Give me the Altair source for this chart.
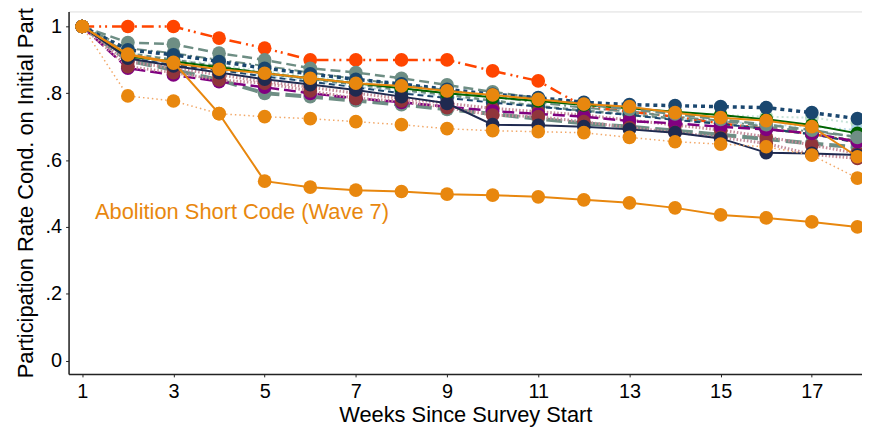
import altair as alt
import pandas as pd

weeks = list(range(1, 19))

s_mint = [1.0,0.92,0.902,0.885,0.866,0.85,0.835,0.82,0.805,0.79,0.777,0.762,0.752,0.742,0.735,0.73,0.727,0.71]
s_ltblue = [1.0,0.91,0.89,0.87,0.852,0.836,0.82,0.806,0.79,0.776,0.762,0.748,0.737,0.726,0.716,0.707,0.70,0.69]
s_orangered = [1.0,1.0,1.0,0.965,0.935,0.90,0.90,0.90,0.90,0.867,0.837,0.76,0.745,0.73,0.71,0.694,0.678,0.655]
s_teal_short = [1.0,0.92,0.9,0.88,0.86,0.843,0.826,0.81,0.795,0.778,0.762,0.748,0.737,0.724,0.71,0.693,0.677,0.658]
s_teal_dot = [1.0,0.935,0.92,0.90,0.882,0.862,0.843,0.826,0.81,0.79,0.772,0.757,0.745,0.73,0.718,0.70,0.685,0.67]
s_navy_dash = [1.0,0.905,0.885,0.87,0.85,0.835,0.818,0.80,0.786,0.772,0.76,0.746,0.735,0.72,0.708,0.694,0.678,0.652]
s_teal_long = [1.0,0.898,0.87,0.84,0.80,0.79,0.778,0.766,0.752,0.738,0.724,0.71,0.70,0.688,0.676,0.663,0.65,0.638]
s_maroon2 = [1.0,0.895,0.875,0.855,0.835,0.818,0.80,0.785,0.77,0.755,0.745,0.735,0.72,0.705,0.69,0.67,0.645,0.62]
s_purple = [1.0,0.875,0.855,0.835,0.818,0.80,0.785,0.773,0.76,0.747,0.738,0.73,0.717,0.71,0.70,0.692,0.68,0.655]
s_maroon1 = [1.0,0.88,0.862,0.84,0.83,0.807,0.785,0.777,0.757,0.735,0.73,0.715,0.697,0.683,0.668,0.65,0.617,0.605]
s_green = [1.0,0.91,0.895,0.878,0.86,0.845,0.83,0.815,0.80,0.788,0.777,0.765,0.755,0.745,0.735,0.722,0.705,0.68]
s_dknavy = [1.0,0.905,0.882,0.862,0.842,0.826,0.81,0.79,0.77,0.706,0.704,0.70,0.692,0.682,0.665,0.622,0.62,0.615]
s_teal_dash = [1.0,0.952,0.947,0.92,0.90,0.875,0.862,0.845,0.825,0.804,0.785,0.768,0.752,0.738,0.722,0.706,0.69,0.668]
s_navy_dot = [1.0,0.93,0.915,0.895,0.875,0.858,0.842,0.828,0.812,0.797,0.787,0.773,0.766,0.763,0.76,0.757,0.742,0.724]
s_orange_solid = [1.0,0.915,0.89,0.872,0.86,0.845,0.83,0.822,0.807,0.795,0.782,0.768,0.76,0.742,0.727,0.718,0.70,0.61]
s_peach = [1.0,0.792,0.777,0.739,0.73,0.724,0.715,0.706,0.694,0.688,0.685,0.682,0.668,0.655,0.648,0.64,0.615,0.546]
s_abolition = [1.0,0.917,0.893,0.739,0.537,0.519,0.51,0.506,0.498,0.495,0.49,0.481,0.472,0.457,0.436,0.427,0.415,0.40]

annot_text = ["Abolition Short Code (Wave 7)"]
annot_week = [1.28]
annot_value = [0.445]

x_ticks = [1, 3, 5, 7, 9, 11, 13, 15, 17]
y_ticks = [0, 0.2, 0.4, 0.6, 0.8, 1.0]

series = {
    "mint": s_mint, "ltblue": s_ltblue, "orangered": s_orangered, "teal_short": s_teal_short,
    "teal_dot": s_teal_dot, "navy_dash": s_navy_dash, "teal_long": s_teal_long, "maroon2": s_maroon2,
    "purple": s_purple, "maroon1": s_maroon1, "green": s_green, "dknavy": s_dknavy,
    "teal_dash": s_teal_dash, "navy_dot": s_navy_dot, "orange_solid": s_orange_solid,
    "peach": s_peach, "abolition": s_abolition,
}

# style: (line color, marker color, dash, width)
styles = {
    "mint": ("#c9e4d9", "#b9dcc0", [2, 3], 2),
    "ltblue": ("#bcdcea", "#a9d3e6", [2, 3], 2),
    "orangered": ("#ff4500", "#ff4500", [12, 5, 2, 4, 2, 5], 2.5),
    "teal_short": ("#6e8e84", "#6e8e84", [5, 4], 2.5),
    "teal_dot": ("#6e8e84", "#6e8e84", [10, 4, 2, 4], 2),
    "navy_dash": ("#1a476f", "#1a476f", [6, 4], 2),
    "teal_long": ("#6e8e84", "#6e8e84", [16, 6], 4),
    "maroon2": ("#c58c99", "#90353b", [1.5, 2], 3),
    "purple": ("#800080", "#800080", [12, 5], 2.5),
    "maroon1": ("#c58c99", "#90353b", [1.5, 2], 3),
    "green": ("#006400", "#006400", None, 2),
    "dknavy": ("#1f2a50", "#1f2a50", None, 2),
    "teal_dash": ("#6e8e84", "#6e8e84", [10, 5], 2.5),
    "navy_dot": ("#1a476f", "#1a476f", [4, 4], 3.5),
    "orange_solid": ("#e8870e", "#e8870e", None, 2),
    "peach": ("#f2a868", "#e8870e", [1.5, 3], 1.5),
    "abolition": ("#e8870e", "#e8870e", None, 2),
}

rows = []
for name, vals in series.items():
    for w, v in zip(weeks, vals):
        rows.append({"series": name, "week": w, "value": v})
df = pd.DataFrame(rows)

xscale = alt.Scale(domain=[0.7, 18.1], nice=False, zero=False)
yscale = alt.Scale(domain=[-0.04, 1.045], nice=False, zero=False)

x_axis = alt.Axis(values=x_ticks, title="Weeks Since Survey Start",
                  grid=False, labelFontSize=20, titleFontSize=22, labelFont="Liberation Sans",
                  titleFont="Liberation Sans", titleFontWeight="normal", labelColor="#000",
                  titleColor="#000", domainColor="#222", domainWidth=1.5, tickColor="#222",
                  tickSize=3, labelPadding=5, titlePadding=3, labelFlush=False)
y_axis = alt.Axis(values=y_ticks, title="Participation Rate Cond. on Initial Part",
                  grid=False, labelFontSize=20, titleFontSize=22, labelFont="Liberation Sans",
                  titleFont="Liberation Sans", titleFontWeight="normal", labelColor="#000",
                  titleColor="#000", domainColor="#222", domainWidth=1.5, tickColor="#222",
                  tickSize=3, labelPadding=4, titlePadding=8, labelFlush=False,
                  labelExpr="datum.value == 0 ? '0' : datum.value == 1 ? '1' : replace(format(datum.value, '.1f'), '0.', '.')")

X = alt.X("week:Q", scale=xscale, axis=x_axis)
Y = alt.Y("value:Q", scale=yscale, axis=y_axis)

base = alt.Chart(df)
layers = []
for name in series:
    lc, mc, dash, sw = styles[name]
    sub = base.transform_filter(alt.datum.series == name)
    line_kwargs = dict(color=lc, strokeWidth=sw, clip=True)
    if dash:
        line_kwargs["strokeDash"] = dash
    layers.append(sub.mark_line(**line_kwargs).encode(x=X, y=Y))
    layers.append(sub.mark_point(filled=True, shape="circle", size=190, color=mc, opacity=1, clip=True)
                  .encode(x=X, y=Y))

annot_df = pd.DataFrame({"text": annot_text, "week": annot_week, "value": annot_value})
annot = alt.Chart(annot_df).mark_text(align="left", baseline="middle", fontSize=22,
                                      font="Liberation Sans", color="#e8870e").encode(
    x=X, y=Y, text="text:N")
layers.append(annot)

chart = alt.layer(*layers).properties(
    width=799, height=365,
    autosize=alt.AutoSizeParams(type="none"),
    padding={"left": 61, "top": 2, "right": 0, "bottom": 52},
).configure_view(strokeWidth=0).configure(background="white")

chart.save("out.html", embed_options={"renderer": "svg", "actions": False})
